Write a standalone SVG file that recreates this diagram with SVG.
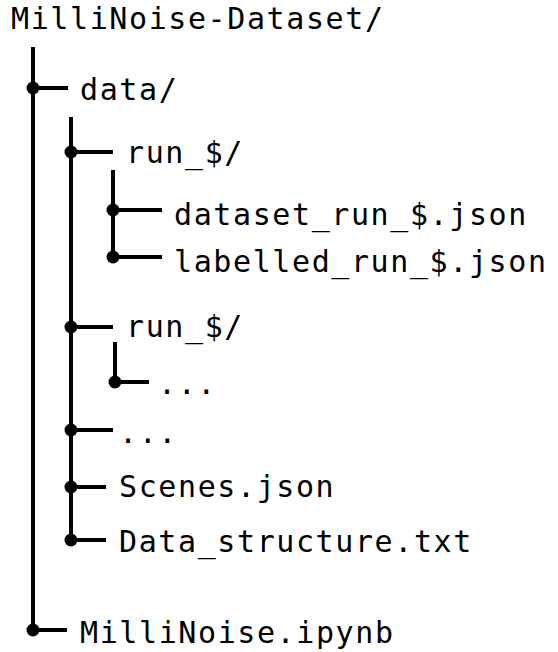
<svg xmlns="http://www.w3.org/2000/svg" width="558" height="652" viewBox="0 0 558 652">
<style>
text{font-family:"DejaVu Sans Mono","Liberation Mono",monospace;font-size:30px;letter-spacing:1.6px;fill:#000}
.ln{stroke:#000;stroke-width:4;fill:none}
.dot{fill:#000}
</style>
<rect width="558" height="652" fill="#fff"/>
<g id="connectors">
<line class="ln" x1="33" y1="47" x2="33" y2="630"/>
<line class="ln" x1="33" y1="88" x2="68" y2="88"/>
<line class="ln" x1="33" y1="630" x2="67" y2="630"/>
<line class="ln" x1="71" y1="117" x2="71" y2="540"/>
<line class="ln" x1="71" y1="152" x2="113" y2="152"/>
<line class="ln" x1="71" y1="327" x2="113" y2="327"/>
<line class="ln" x1="71" y1="430" x2="113" y2="430"/>
<line class="ln" x1="71" y1="487" x2="106" y2="487"/>
<line class="ln" x1="71" y1="540" x2="106" y2="540"/>
<line class="ln" x1="113" y1="170" x2="113" y2="257"/>
<line class="ln" x1="113" y1="210" x2="162" y2="210"/>
<line class="ln" x1="113" y1="257" x2="162" y2="257"/>
<line class="ln" x1="115" y1="342" x2="115" y2="382"/>
<line class="ln" x1="115" y1="382" x2="149" y2="382"/>
<circle class="dot" cx="33" cy="88" r="6.5"/>
<circle class="dot" cx="33" cy="630" r="6.5"/>
<circle class="dot" cx="71" cy="152" r="6.5"/>
<circle class="dot" cx="71" cy="327" r="6.5"/>
<circle class="dot" cx="71" cy="430" r="6.5"/>
<circle class="dot" cx="71" cy="487" r="6.5"/>
<circle class="dot" cx="71" cy="540" r="6.5"/>
<circle class="dot" cx="113" cy="210" r="6.5"/>
<circle class="dot" cx="113" cy="257" r="6.5"/>
<circle class="dot" cx="115" cy="382" r="6.5"/>
</g>
<g id="root"><text x="11" y="29">MilliNoise-Dataset/</text></g>
<g id="data"><text x="80" y="100">data/</text></g>
<g id="run1"><text x="126" y="163">run_$/</text></g>
<g id="dataset_json"><text x="174" y="225">dataset_run_$.json</text></g>
<g id="labelled_json"><text x="174" y="272">labelled_run_$.json</text></g>
<g id="run2"><text x="126" y="337">run_$/</text></g>
<g id="run2_more"><text x="158" y="394">...</text></g>
<g id="data_more"><text x="119" y="443">...</text></g>
<g id="scenes"><text x="119" y="497">Scenes.json</text></g>
<g id="data_structure"><text x="119" y="552">Data_structure.txt</text></g>
<g id="ipynb"><text x="80" y="643">MilliNoise.ipynb</text></g>
</svg>
